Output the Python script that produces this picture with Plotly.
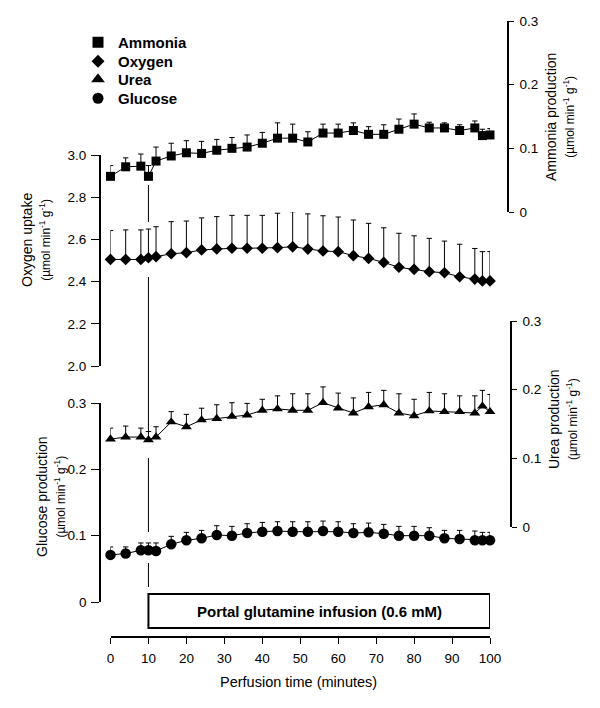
import plotly.graph_objects as go

# the page body has an 8px margin; the figure is sized so it fits the 600x708 window
OFF = 8
W, H = 600 - 2 * OFF, 708 - 2 * OFF
FONT = "Liberation Sans, Arial, Helvetica, sans-serif"

# ---------------- data ----------------
time_min = [0, 4, 8, 10, 12, 16, 20, 24, 28, 32, 36, 40, 44, 48, 52, 56, 60, 64,
            68, 72, 76, 80, 84, 88, 92, 96, 98, 100]

ammonia = [0.056, 0.071, 0.072, 0.056, 0.080, 0.088, 0.093, 0.092, 0.097, 0.100,
           0.102, 0.108, 0.116, 0.116, 0.110, 0.124, 0.124, 0.128, 0.122, 0.122,
           0.130, 0.138, 0.132, 0.132, 0.128, 0.132, 0.120, 0.121]
ammonia_sem = [0.017, 0.014, 0.019, 0.017, 0.022, 0.020, 0.019, 0.019, 0.017, 0.017,
               0.019, 0.017, 0.024, 0.022, 0.016, 0.014, 0.014, 0.012, 0.012, 0.015,
               0.016, 0.016, 0.009, 0.008, 0.009, 0.011, 0.010, 0.010]

oxygen = [2.505, 2.505, 2.505, 2.513, 2.518, 2.532, 2.537, 2.550, 2.555, 2.558,
          2.558, 2.558, 2.561, 2.565, 2.554, 2.545, 2.542, 2.523, 2.510, 2.491,
          2.468, 2.458, 2.447, 2.442, 2.423, 2.412, 2.403, 2.403]
oxygen_sem = [0.137, 0.140, 0.140, 0.136, 0.142, 0.152, 0.150, 0.152, 0.153, 0.156,
              0.156, 0.156, 0.163, 0.166, 0.167, 0.167, 0.164, 0.169, 0.166, 0.164,
              0.161, 0.159, 0.158, 0.150, 0.154, 0.145, 0.139, 0.139]

urea = [0.128, 0.131, 0.131, 0.127, 0.131, 0.153, 0.146, 0.156, 0.158, 0.161,
        0.163, 0.170, 0.172, 0.170, 0.170, 0.181, 0.173, 0.166, 0.175, 0.178,
        0.166, 0.162, 0.169, 0.168, 0.168, 0.166, 0.176, 0.168]
urea_sem = [0.016, 0.016, 0.013, 0.012, 0.015, 0.015, 0.018, 0.017, 0.020, 0.020,
            0.017, 0.016, 0.019, 0.024, 0.024, 0.023, 0.022, 0.022, 0.021, 0.021,
            0.028, 0.024, 0.027, 0.026, 0.023, 0.025, 0.023, 0.025]

glucose = [0.071, 0.073, 0.078, 0.078, 0.077, 0.087, 0.093, 0.096, 0.101, 0.100,
           0.104, 0.106, 0.107, 0.106, 0.106, 0.107, 0.106, 0.104, 0.105, 0.103,
           0.100, 0.100, 0.100, 0.096, 0.095, 0.093, 0.093, 0.093]
glucose_sem = [0.012, 0.010, 0.011, 0.011, 0.012, 0.012, 0.012, 0.012, 0.014, 0.014,
               0.014, 0.014, 0.014, 0.015, 0.015, 0.015, 0.015, 0.014, 0.014, 0.014,
               0.014, 0.014, 0.012, 0.012, 0.013, 0.014, 0.012, 0.012]

infusion_start, infusion_end = 10, 100
infusion_label = "Portal glutamine infusion (0.6 mM)"

x_ticks = [0, 10, 20, 30, 40, 50, 60, 70, 80, 90, 100]
oxygen_ticks = [2.0, 2.2, 2.4, 2.6, 2.8, 3.0]
prod_ticks = [0, 0.1, 0.2, 0.3]
prod_ticktext = ["0", "0.1", "0.2", "0.3"]

UNITS = "(µmol min<sup>-1</sup> g<sup>-1</sup>)"

# ---------------- helpers (window pixel -> paper fraction) ----------------
def px(x):
    return (x - OFF) / W

def py(y):
    return 1 - (y - OFF) / H

def series(y, err, axis, symbol, size, name):
    return go.Scatter(
        x=time_min, y=y, yaxis=axis, mode="lines+markers", name=name,
        showlegend=False, cliponaxis=False,
        line=dict(color="black", width=1),
        marker=dict(symbol=symbol, size=size, color="black"),
        error_y=dict(type="data", array=err, arrayminus=[0] * len(err),
                     symmetric=False, color="black", thickness=1, width=2.7),
    )

fig = go.Figure()
fig.add_trace(series(ammonia, ammonia_sem, "y2", "square", 9, "Ammonia"))
fig.add_trace(series(oxygen, oxygen_sem, "y", "diamond", 9, "Oxygen"))
fig.add_trace(series(urea, urea_sem, "y3", "triangle-up", 9.5, "Urea"))
fig.add_trace(series(glucose, glucose_sem, "y4", "circle", 10.5, "Glucose"))

# legend entries: one small legend per row so the row spacing matches
legend_rows = [("Ammonia", "square", 11, 42), ("Oxygen", "diamond", 10, 61),
               ("Urea", "triangle-up", 12, 79), ("Glucose", "circle", 11, 98)]
legend_layouts = {}
for i, (name, sym, sz, yc) in enumerate(legend_rows):
    key = "legend" if i == 0 else "legend%d" % (i + 1)
    fig.add_trace(go.Scatter(x=[None], y=[None], mode="markers", name=name,
                             legend=key,
                             marker=dict(symbol=sym, size=sz, color="black")))
    legend_layouts[key] = dict(
        x=px(78), y=py(yc - 16), xanchor="left", yanchor="top",
        bgcolor="rgba(0,0,0,0)", borderwidth=0,
        font=dict(family=FONT, size=15, color="black", weight="bold"))

axis_common = dict(showgrid=False, zeroline=False, showline=True, linecolor="black",
                   linewidth=1.8, ticks="outside", tickcolor="black", tickwidth=1.2,
                   ticklen=5, tickfont=dict(family=FONT, size=13.5, color="black"),
                   anchor="free", automargin=False)

fig.update_layout(
    width=W, height=H, autosize=False,
    margin=dict(l=0, r=0, t=0, b=0, pad=0),
    paper_bgcolor="white", plot_bgcolor="white",
    font=dict(family=FONT, color="black"),
    showlegend=True,
    xaxis=dict(axis_common, domain=[px(110.5), px(490)], range=[0, 100],
               position=py(637), tickvals=x_ticks, ticklen=6, linewidth=2,
               ticklabelstandoff=3),
    yaxis=dict(axis_common, domain=[py(366), py(155)], range=[2, 3], side="left",
               position=px(100), tickvals=oxygen_ticks, tickformat=".1f",
               ticklen=8, ticklabelstandoff=2),
    yaxis2=dict(axis_common, domain=[py(212), py(21)], range=[0, 0.3], side="right",
                position=px(508), tickvals=prod_ticks, ticktext=prod_ticktext,
                ticklabelstandoff=3),
    yaxis3=dict(axis_common, domain=[py(527), py(321)], range=[0, 0.3], side="right",
                position=px(511), tickvals=prod_ticks, ticktext=prod_ticktext,
                ticklabelstandoff=3),
    yaxis4=dict(axis_common, domain=[py(602), py(403)], range=[0, 0.3], side="left",
                position=px(100), tickvals=prod_ticks, ticktext=prod_ticktext,
                ticklen=8, ticklabelstandoff=2),
    **legend_layouts,
)

# vertical marker line at infusion start (with gaps around the markers)
for y0, y1 in [(185, 222), (277, 432), (458, 532), (563, 587)]:
    fig.add_shape(type="line", xref="x", yref="paper", x0=infusion_start,
                  x1=infusion_start, y0=py(y0), y1=py(y1),
                  line=dict(color="black", width=1))

# infusion box
fig.add_shape(type="rect", xref="x", yref="paper", x0=infusion_start, x1=infusion_end,
              y0=py(628), y1=py(594), line=dict(color="black", width=2),
              fillcolor="rgba(0,0,0,0)")
fig.add_annotation(x=(infusion_start + infusion_end) / 2, xref="x", y=py(611),
                   yref="paper", text="<b>" + infusion_label + "</b>", showarrow=False,
                   xanchor="center", yanchor="middle",
                   font=dict(family=FONT, size=15, color="black"))

# axis titles
fig.add_annotation(x=px(298), y=py(682), xref="paper", yref="paper",
                   text="Perfusion time (minutes)", showarrow=False,
                   xanchor="center", yanchor="middle",
                   font=dict(family=FONT, size=14.5, color="black"))

def ytitle(name, xc, yc):
    fig.add_annotation(x=px(xc), y=py(yc), xref="paper", yref="paper",
                       text=name + "<br><span style='font-size:12px'>" + UNITS + "</span>",
                       textangle=-90, showarrow=False,
                       xanchor="center", yanchor="middle",
                       font=dict(family=FONT, size=14, color="black"))

ytitle("Oxygen uptake", 36, 240)
ytitle("Glucose production", 51, 497)
ytitle("Ammonia production", 560, 117)
ytitle("Urea production", 563, 419)

fig.write_html("out.html")
